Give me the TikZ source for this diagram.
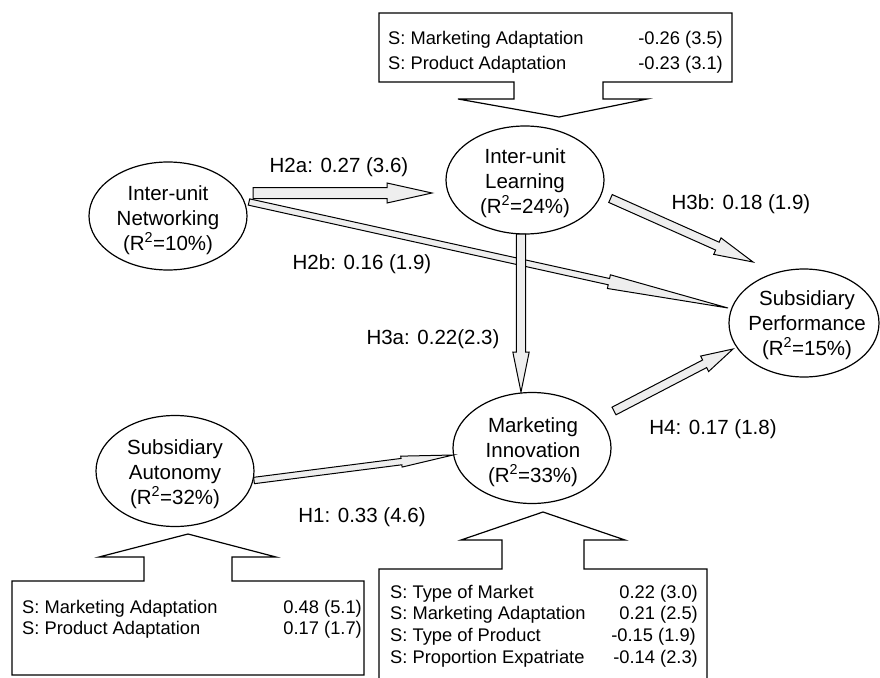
\documentclass[tikz,border=0pt]{standalone}
\usepackage{fontspec}
\setmainfont{Liberation Sans}
\usetikzlibrary{calc,shapes.geometric}
\definecolor{arrowgray}{RGB}{238,238,238}
\tikzset{
  ell/.style={ellipse, draw, fill=white, line width=1.2pt, minimum width=158pt, minimum height=108pt, inner sep=0pt},
  etxt/.style={align=center, inner sep=0pt, font=\fontsize{20.5pt}{25pt}\selectfont},
  lbl/.style={inner sep=0pt, anchor=base, font=\fontsize{20.5pt}{25pt}\selectfont},
  btl/.style={inner sep=0pt, anchor=base west, font=\fontsize{18.3pt}{22pt}\selectfont},
  btr/.style={inner sep=0pt, anchor=base east, font=\fontsize{18.3pt}{22pt}\selectfont},
  fatarr/.style={fill=arrowgray, draw=black, line width=1pt, line join=miter},
  callout/.style={draw=black, fill=white, line width=1.2pt, line join=miter},
}
% #1 tail, #2 tip, #3 shaft half width, #4 head half width, #5 head length
\newcommand\fatarrow[5]{%
  \coordinate (fa-s) at (#1);
  \coordinate (fa-e) at (#2);
  \coordinate (fa-h) at ($(fa-e)!#5!(fa-s)$);
  \filldraw[fatarr] ($(fa-s)!#3!90:(fa-e)$) -- ($(fa-h)!#3!-90:(fa-s)$)
     -- ($(fa-h)!#4!-90:(fa-s)$) -- (fa-e) -- ($(fa-h)!#4!90:(fa-s)$)
     -- ($(fa-h)!#3!90:(fa-s)$) -- ($(fa-s)!#3!-90:(fa-e)$) -- cycle;
}
\begin{document}
\begin{tikzpicture}[x=1pt,y=-1pt]
\useasboundingbox (0,0) rectangle (880,677);
\fill[white] (0,0) rectangle (880,677);

% ellipses
\node[ell] (net)  at (168,216) {};
\node[ell] (lrn)  at (525,180) {};
\node[ell, minimum width=150pt] (perf) at (804,323) {};
\node[ell, minimum height=111pt] (mkt)  at (532,448) {};
\node[ell, minimum height=111pt] (aut)  at (175,471) {};

\node[etxt] (net-t)  at (168,220) {Inter-unit\\Networking\\(R\textsuperscript{2}=10\%)};
\node[etxt] (lrn-t)  at (525,183) {Inter-unit\\Learning\\(R\textsuperscript{2}=24\%)};
\node[etxt] (perf-t) at (807,325) {Subsidiary\\Performance\\(R\textsuperscript{2}=15\%)};
\node[etxt] (mkt-t)  at (533,452) {Marketing\\Innovation\\(R\textsuperscript{2}=33\%)};
\node[etxt] (aut-t)  at (175,474) {Subsidiary\\Autonomy\\(R\textsuperscript{2}=32\%)};

% callouts
\draw[callout] (379,13) -- (732,13) -- (732,82) -- (603,82) -- (603,99) -- (647,99)
  -- (559,117) -- (458,99) -- (514,99) -- (514,82) -- (379,82) -- cycle;
\draw[callout] (12,581) -- (144,581) -- (144,557) -- (99,557) -- (188,534) -- (276,557)
  -- (232,557) -- (232,581) -- (364,581) -- (364,675) -- (12,675) -- cycle;
\draw[callout] (379,690) -- (379,569) -- (502,569) -- (502,540) -- (461,540) -- (543,512)
  -- (625,540) -- (584,540) -- (584,569) -- (707,569) -- (707,690) -- cycle;

% callout texts
\node[btl] (t1a) at (388,44.5) {S: Marketing Adaptation};
\node[btr] (t1b) at (723,44.5) {-0.26 (3.5)};
\node[btl] (t2a) at (388,69.5) {S: Product Adaptation};
\node[btr] (t2b) at (723,69.5) {-0.23 (3.1)};

\node[btl] (l1a) at (22,613.5) {S: Marketing Adaptation};
\node[btr] (l1b) at (362,613.5) {0.48 (5.1)};
\node[btl] (l2a) at (22,634.5) {S: Product Adaptation};
\node[btr] (l2b) at (362,634.5) {0.17 (1.7)};

\node[btl] (r1a) at (390,598.5) {S: Type of Market};
\node[btr] (r1b) at (698,598.5) {0.22 (3.0)};
\node[btl] (r2a) at (390,619.5) {S: Marketing Adaptation};
\node[btr] (r2b) at (698,619.5) {0.21 (2.5)};
\node[btl] (r3a) at (390,641.5) {S: Type of Product};
\node[btr] (r3b) at (696,641.5) {-0.15 (1.9)};
\node[btl] (r4a) at (390,663.5) {S: Proportion Expatriate};
\node[btr] (r4b) at (698,663.5) {-0.14 (2.3)};

% arrow end points
\coordinate (h2a-s) at ($(net)+(85,-23)$);
\coordinate (h2a-e) at ($(lrn)+(-93,13)$);
\coordinate (h2b-s) at ($(net)+(81,-14)$);
\coordinate (h2b-e) at ($(perf)+(-76,-15)$);
\coordinate (h3b-s) at ($(lrn)+(85.5,18.5)$);
\coordinate (h3b-e) at ($(perf)+(-51,-61)$);
\coordinate (h3a-s) at ($(lrn)+(-4,54)$);
\coordinate (h3a-e) at ($(mkt)+(-11,-56)$);
\coordinate (h4-s)  at ($(mkt)+(82,-37)$);
\coordinate (h4-e)  at ($(perf)+(-71,26)$);
\coordinate (h1-s)  at ($(aut)+(79,9.5)$);
\coordinate (h1-e)  at ($(mkt)+(-79,7)$);

\fatarrow{h2a-s}{h2a-e}{5.5pt}{10pt}{45pt}
\fatarrow{h2b-s}{h2b-e}{3.2pt}{7pt}{122pt}
\fatarrow{h3b-s}{h3b-e}{4.3pt}{9pt}{39pt}
\fatarrow{h3a-s}{h3a-e}{4.7pt}{8.2pt}{40pt}
\fatarrow{h4-s}{h4-e}{4.3pt}{8.7pt}{32pt}
\fatarrow{h1-s}{h1-e}{3.2pt}{5.5pt}{52pt}

% labels
\node[lbl] (lh2a) at (339,172.3) {H2a: 0.27 (3.6)};
\node[lbl] (lh2b) at (362,269.3) {H2b: 0.16 (1.9)};
\node[lbl] (lh3b) at (741,209.3) {H3b: 0.18 (1.9)};
\node[lbl] (lh3a) at (433,344.3) {H3a: 0.22(2.3)};
\node[lbl] (lh4)  at (713,434.3) {H4: 0.17 (1.8)};
\node[lbl] (lh1)  at (362,522.3) {H1: 0.33 (4.6)};
\end{tikzpicture}
\end{document}
